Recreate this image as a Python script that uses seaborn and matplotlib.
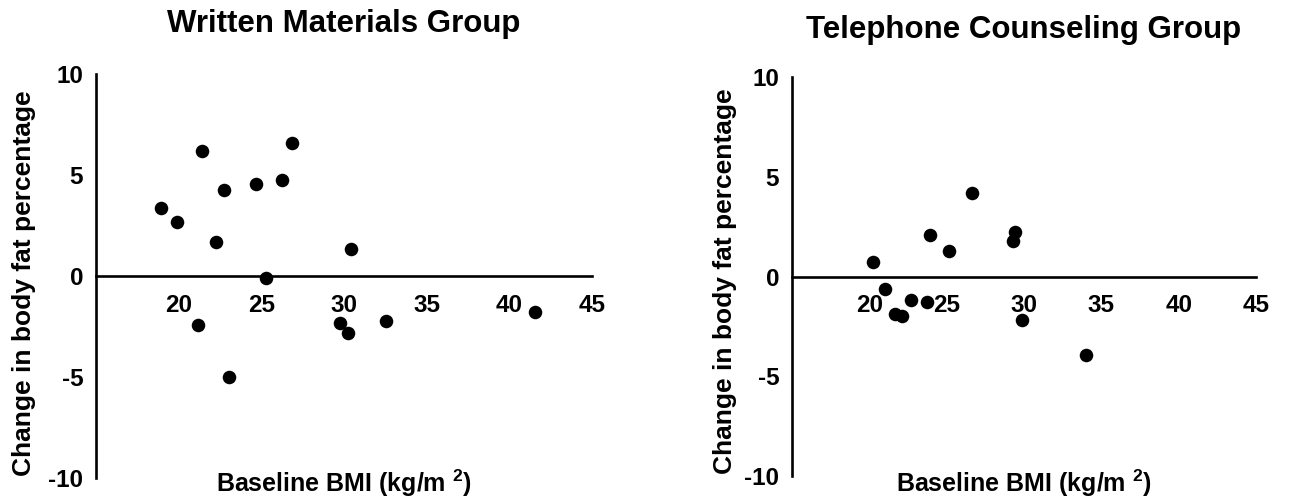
import matplotlib
matplotlib.use("Agg")
import matplotlib.pyplot as plt
import seaborn as sns
import pandas as pd

# ---- data ----
written_bmi = [18.93, 19.90, 21.41, 21.15, 22.23, 22.72, 23.04, 24.67,
               25.31, 26.26, 26.84, 29.76, 30.24, 30.40, 32.54, 41.58]
written_change = [3.38, 2.67, 6.19, -2.43, 1.67, 4.27, -5.02, 4.55,
                  -0.12, 4.77, 6.58, -2.33, -2.84, 1.35, -2.23, -1.77]

phone_bmi = [20.26, 21.04, 21.68, 22.11, 22.70, 23.76, 23.93, 25.12,
             26.63, 29.31, 29.42, 29.87, 33.99]
phone_change = [0.72, -0.60, -1.89, -1.99, -1.17, -1.29, 2.09, 1.31,
                4.21, 1.77, 2.23, -2.19, -3.94]

titles = ["Written Materials Group", "Telephone Counseling Group"]
x_label = r"Baseline BMI (kg/m $^{\mathbf{2}}$)"
y_label = "Change in body fat percentage"
x_ticks = [20, 25, 30, 35, 40, 45]
y_ticks = [-10, -5, 0, 5, 10]

# ---- style ----
sns.set_theme(style="white")
plt.rcParams["font.family"] = ["Liberation Sans", "DejaVu Sans"]
plt.rcParams["font.weight"] = "bold"
plt.rcParams["text.color"] = "black"
plt.rcParams["axes.labelcolor"] = "black"
plt.rcParams["xtick.color"] = "black"
plt.rcParams["ytick.color"] = "black"
plt.rcParams["axes.unicode_minus"] = False
plt.rcParams["mathtext.fontset"] = "custom"
plt.rcParams["mathtext.rm"] = "Liberation Sans:bold"
plt.rcParams["mathtext.bf"] = "Liberation Sans:bold"

fig = plt.figure(figsize=(13.1, 4.97), dpi=100)
fig.patch.set_facecolor("white")

panels = [
    dict(rect=[96/1310, 1-478/497, 496/1310, 404/497],
         df=pd.DataFrame({"bmi": written_bmi, "change": written_change}),
         title=titles[0], pad=30, xl_y=(478-492)/404, yl=(-0.145, 0.481)),
    dict(rect=[792/1310, 1-476.1/497, 464/1310, 398.8/497],
         df=pd.DataFrame({"bmi": phone_bmi, "change": phone_change}),
         title=titles[1], pad=28, xl_y=(476.1-492)/398.8, yl=(-0.144, 0.490)),
]

for p in panels:
    ax = fig.add_axes(p["rect"])
    ax.set_facecolor("white")
    sns.scatterplot(data=p["df"], x="bmi", y="change", ax=ax,
                    color="black", s=95, linewidth=0, zorder=3, clip_on=False)
    ax.set_xlim(15, 45)
    ax.set_ylim(-10, 10)
    ax.set_xticks(x_ticks)
    ax.set_yticks(y_ticks)
    for s in ["top", "right"]:
        ax.spines[s].set_visible(False)
    ax.spines["bottom"].set_position(("data", 0))
    for s in ["left", "bottom"]:
        ax.spines[s].set_color("black")
        ax.spines[s].set_linewidth(1.9)
    ax.tick_params(axis="both", direction="out", length=6.7, width=1.9,
                   colors="black", labelsize=17.5)
    ax.tick_params(axis="x", pad=6)
    ax.tick_params(axis="y", pad=2.5)
    for lbl in ax.get_xticklabels() + ax.get_yticklabels():
        lbl.set_fontweight("bold")
    ax.grid(False)

    ax.set_title(p["title"], fontsize=22.5, fontweight="bold", pad=p["pad"],
                 color="black")
    ax.set_xlabel(x_label, fontsize=18, fontweight="bold", va="baseline",
                  color="black")
    ax.xaxis.set_label_coords(0.5, p["xl_y"])
    ax.set_ylabel(y_label, fontsize=19, fontweight="bold", va="center",
                  color="black")
    ax.yaxis.set_label_coords(*p["yl"])

fig.savefig("out.png", dpi=100, facecolor="white")
